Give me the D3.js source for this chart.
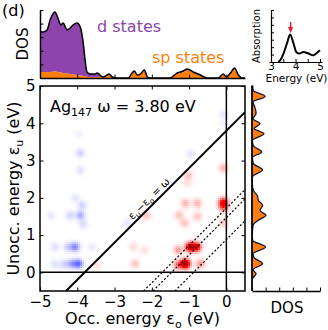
<!DOCTYPE html>
<html>
<head>
<meta charset="utf-8">
<script src="https://cdn.jsdelivr.net/npm/d3@7"></script>
<style>
  body { margin: 0; background: #fff; }
  svg text { font-family: "DejaVu Sans", sans-serif; fill: #000; }
</style>
</head>
<body>
<div id="chart-area"></div>
<script>
// ---- data ----
// top DOS (occupied energy axis)
const topE = [-5.0, -4.92, -4.81, -4.73, -4.60, -4.52, -4.44, -4.38, -4.27, -4.19, -4.11, -4.01, -3.92, -3.84, -3.79, -3.74, -3.66, -3.52, -3.47, -3.39, -3.31, -3.20, -3.15, -3.06, -2.93, -2.63, -2.55, -2.47, -2.39, -2.31, -2.20, -2.12, -2.04, -1.51, -1.32, -1.16, -1.05, -0.89, -0.70, -0.51, -0.22, -0.08, 0.0, 0.11, 0.22, 0.32, 0.43, 0.5]
const topTotal = [3.38, 3.38, 3.53, 4.26, 4.85, 4.41, 3.90, 4.04, 3.53, 3.68, 3.90, 4.04, 3.75, 2.57, 1.32, 0.44, 0.29, 0.29, 0.37, 0.22, 0.07, 0.22, 0.29, 0.07, 0, 0, 0.29, 0.51, 0.22, 0.29, 0.59, 0.07, 0, 0, 0.37, 0.51, 0.66, 0.44, 0.22, 0, 0, 0.29, 0.07, 0.37, 0.74, 0.22, 0, 0]
const topSp = [0.44, 0.44, 0.44, 0.44, 0.48, 0.44, 0.40, 0.37, 0.33, 0.30, 0.26, 0.22, 0.18, 0.15, 0.12, 0.10, 0.08, 0.07, 0.07, 0.10, 0.07, 0.15, 0.22, 0.05, 0, 0, 0.25, 0.45, 0.2, 0.25, 0.52, 0.06, 0, 0, 0.3, 0.42, 0.55, 0.38, 0.18, 0, 0, 0.26, 0.06, 0.33, 0.68, 0.2, 0, 0]

// right DOS (unoccupied energy axis)
const rightE = [-0.5, -0.25, -0.17, -0.04, 0.07, 0.23, 0.40, 0.50, 0.68, 0.86, 1.0, 1.26, 1.40, 1.53, 1.66, 1.80, 1.93, 2.06, 2.20, 2.40, 2.56, 2.75, 2.92, 3.08, 3.23, 3.40, 3.54, 3.72, 3.86, 3.99, 4.12, 4.26, 4.35, 4.44, 4.57, 4.72, 4.88, 5.0]
const rightDos = [0, 0, 0.03, 0.3, 0.08, 0.78, 0.15, 0.08, 1.0, 0.05, 0.02, 0.08, 0.47, 1.03, 0.59, 0.78, 0.47, 0.39, 0.1, 0.02, 0.03, 0.78, 0.1, 0.03, 0.71, 0.1, 0.03, 0.88, 0.16, 0.59, 0.08, 0.3, 0.27, 0.2, 0.08, 0.96, 0.1, 0.05]

// transition contributions (occ. energy, unocc. energy, weight)
const blobO = [-3.97, -4.15, -4.35, -4.6, -4.06, -4.25, -4.6, -3.6, -3.92, -4.19, -4.7, -3.84, -3.87, -4.05, -3.92, -3.92, -3.95, -2.65, -0.95, -0.08, -0.05,
  -1.10, -0.97, -0.8, -1.29, -0.7, -1.29, -0.08, -0.08, -0.08, -0.08, -1.02, -1.1, -0.78, -0.78, -1.27, -1.12, -2.15, -2.45, -2.5, -2.2, -3.47, -1.05]
const blobU = [0.23, 0.23, 0.22, 0.22, 0.68, 0.68, 0.68, 0.68, 1.53, 1.53, 1.53, 1.29, 1.8, 2.0, 2.74, 3.2, 3.7, 1.32, 3.18, 4.25, 4.0,
  0.23, 0.68, 0.68, 0.2, 0.23, 0.6, 1.88, 1.75, 2.8, 1.32, 2.6, 1.85, 1.85, 1.5, 1.53, 1.32, 1.53, 0.23, 0.68, 0.6, 0.19, 2.4]
const blobW = [-0.3, -0.18, -0.09, -0.06, -0.24, -0.1, -0.06, -0.04, -0.16, -0.08, -0.045, -0.07, -0.09, -0.05, -0.06, -0.09, -0.03, -0.05, -0.05, -0.045, -0.03,
  0.9, 0.75, 0.6, 0.3, 0.2, 0.2, 0.55, 0.3, 0.15, 0.1, 0.12, 0.15, 0.15, 0.12, 0.12, 0.12, 0.12, 0.12, 0.07, 0.06, 0.06, 0.06]

// guide lines eu - eo = c
const omega = 3.80
const dotOffsets = [1.72, 1.47, 0.88]

// absorption inset
const absE = [3.3, 3.38, 3.51, 3.65, 3.78, 3.92, 4.03, 4.16, 4.32, 4.53, 4.73, 4.87, 5.0]
const absV = [0, 0.25, 1.14, 2.49, 3.7, 2.49, 1.35, 1.14, 1.35, 1.14, 0.9, 1.22, 1.58]

const xTicks = [-5, -4, -3, -2, -1, 0]
const yTicks = [0, 1, 2, 3, 4, 5]
const dosTicks = [0, 1, 2, 3, 4, 5]

const PURPLE = "#8e44ad"
const ORANGE = "#ff7f0e"
const SIGMA = 0.085

const svg = d3.select("#chart-area")
    .append("svg")
    .attr("width", 328)
    .attr("height", 330)

// ---- scales ----
const x = d3.scaleLinear().domain([-5, 0.5]).range([40, 245])
const y = d3.scaleLinear().domain([-0.5, 5]).range([291, 86])
const yTop = d3.scaleLinear().domain([0, 5]).range([78, 10])
const xRight = d3.scaleLinear().domain([0, 5]).range([252, 320])
const xi = d3.scaleLinear().domain([3, 5]).range([271, 320])
const yi = d3.scaleLinear().domain([0, 7]).range([62, 10])

// seismic-like colour map
const color = d3.scaleLinear()
    .domain([-1, -0.5, 0, 0.5, 1])
    .range(["#00004d", "#0000ff", "#ffffff", "#ff0000", "#800000"])
    .clamp(true)

// ---- heat map ----
svg.append("clipPath").attr("id", "clip")
    .append("rect").attr("x", 40).attr("y", 86).attr("width", 205).attr("height", 205)

const mainG = svg.append("g").attr("clip-path", "url(#clip)")

const CELL = 2
const cells = []
for (let px = 40; px < 245; px += CELL) {
    for (let py = 86; py < 291; py += CELL) {
        const eo = x.invert(px + CELL / 2), eu = y.invert(py + CELL / 2)
        let v = 0
        blobO.forEach((o, i) => {
            const d2 = (eo - o) ** 2 + (eu - blobU[i]) ** 2
            v += blobW[i] * Math.exp(-d2 / (2 * SIGMA * SIGMA))
        })
        if (Math.abs(v) > 0.004) cells.push({ px, py, v })
    }
}
mainG.selectAll("rect.cell").data(cells).enter()
    .append("rect")
    .attr("class", "cell")
    .attr("x", d => d.px)
    .attr("y", d => d.py)
    .attr("width", CELL + 0.3)
    .attr("height", CELL + 0.3)
    .attr("fill", d => color(d.v))

// zero lines
mainG.append("line")
    .attr("x1", x(-5)).attr("x2", x(0.5)).attr("y1", y(0)).attr("y2", y(0))
    .attr("stroke", "#000").attr("stroke-width", 1.5)
mainG.append("line")
    .attr("x1", x(0)).attr("x2", x(0)).attr("y1", y(-0.5)).attr("y2", y(5))
    .attr("stroke", "#000").attr("stroke-width", 1.5)

// eu - eo = omega
mainG.append("line")
    .attr("x1", x(-0.5 - omega)).attr("y1", y(-0.5))
    .attr("x2", x(0.5)).attr("y2", y(0.5 + omega))
    .attr("stroke", "#000").attr("stroke-width", 2)

mainG.selectAll("line.dot").data(dotOffsets).enter()
    .append("line")
    .attr("class", "dot")
    .attr("x1", d => x(-0.5 - d)).attr("y1", y(-0.5))
    .attr("x2", x(0.5)).attr("y2", d => y(0.5 + d))
    .attr("stroke", "#000").attr("stroke-width", 1.2)
    .attr("stroke-dasharray", "2,2")

// label on the diagonal
const lx = x(-1.95), ly = y(-1.95 + omega)
const diagLabel = svg.append("text")
    .attr("transform", `translate(${lx},${ly}) rotate(-45)`)
    .attr("text-anchor", "middle")
    .attr("dy", -3)
    .style("font-size", "10.5px")
diagLabel.append("tspan").text("ε")
diagLabel.append("tspan").attr("dy", 2.5).style("font-size", "7.5px").text("u")
diagLabel.append("tspan").attr("dy", -2.5).text("−ε")
diagLabel.append("tspan").attr("dy", 2.5).style("font-size", "7.5px").text("o")
diagLabel.append("tspan").attr("dy", -2.5).text(" = ω")

// title inside
const title = svg.append("text").attr("x", 50).attr("y", 112).style("font-size", "16px")
title.append("tspan").text("Ag")
title.append("tspan").attr("dy", 4).style("font-size", "11px").text("147")
title.append("tspan").attr("dy", -4).text(" ω = 3.80 eV")

// frame + ticks
svg.append("rect")
    .attr("x", 40).attr("y", 86).attr("width", 205).attr("height", 205)
    .attr("fill", "none").attr("stroke", "#000").attr("stroke-width", 1.5)

function styleAxis(g, fs) {
    g.select(".domain").remove()
    g.selectAll(".tick line").attr("stroke", "#000").attr("stroke-width", 1)
    g.selectAll(".tick text").style("font-size", fs).attr("font-family", null)
}

const fmt = d3.format("d")
svg.append("g").attr("transform", "translate(0,291)")
    .call(d3.axisBottom(x).tickValues(xTicks).tickFormat(fmt).tickSize(-3.5).tickPadding(5.3))
    .call(g => styleAxis(g, "15px"))
svg.append("g").attr("transform", "translate(0,86)")
    .call(d3.axisTop(x).tickValues(xTicks).tickSize(-3.5).tickFormat(""))
    .call(g => styleAxis(g, "15px"))
svg.append("g").attr("transform", "translate(40,0)")
    .call(d3.axisLeft(y).tickValues(yTicks).tickFormat(fmt).tickSize(-3.5).tickPadding(4.5))
    .call(g => styleAxis(g, "15px"))
svg.append("g").attr("transform", "translate(245,0)")
    .call(d3.axisRight(y).tickValues(yTicks).tickSize(-3.5).tickFormat(""))
    .call(g => styleAxis(g, "15px"))

// axis labels
const xl = svg.append("text").attr("x", 142.5).attr("y", 324)
    .attr("text-anchor", "middle").style("font-size", "16px")
xl.append("tspan").text("Occ. energy ε")
xl.append("tspan").attr("dy", 3.5).style("font-size", "11px").text("o")
xl.append("tspan").attr("dy", -3.5).text(" (eV)")

const yl = svg.append("text")
    .attr("transform", "translate(19,188.5) rotate(-90)")
    .attr("text-anchor", "middle").style("font-size", "16px")
yl.append("tspan").text("Unocc. energy ε")
yl.append("tspan").attr("dy", 3.5).style("font-size", "11px").text("u")
yl.append("tspan").attr("dy", -3.5).text(" (eV)")

// ---- top DOS panel ----
const topData = topE.map((e, i) => ({ e, t: topTotal[i], sp: topSp[i] }))
const topG = svg.append("g")
topG.append("path").datum(topData)
    .attr("fill", PURPLE)
    .attr("d", d3.area().x(d => x(d.e)).y0(d => yTop(d.sp)).y1(d => yTop(d.t)).curve(d3.curveMonotoneX))
topG.append("path").datum(topData)
    .attr("fill", ORANGE)
    .attr("d", d3.area().x(d => x(d.e)).y0(yTop(0)).y1(d => yTop(d.sp)).curve(d3.curveMonotoneX))
topG.append("path").datum(topData)
    .attr("fill", "none").attr("stroke", "#000").attr("stroke-width", 1.5)
    .attr("d", d3.line().x(d => x(d.e)).y(d => yTop(d.t)).curve(d3.curveMonotoneX))

topG.append("g").attr("transform", "translate(40,0)")
    .call(d3.axisLeft(yTop).tickValues(dosTicks).tickSize(-3.5).tickSizeOuter(0).tickFormat(""))
    .call(g => g.select(".domain").attr("stroke", "#000").attr("stroke-width", 1.5))
topG.append("g").attr("transform", "translate(0,78)")
    .call(d3.axisBottom(x).tickValues(xTicks).tickSize(-3.5).tickSizeOuter(0).tickFormat(""))
    .call(g => g.select(".domain").attr("stroke", "#000").attr("stroke-width", 1.5))

topG.append("text").attr("transform", "translate(28,44) rotate(-90)")
    .attr("text-anchor", "middle").style("font-size", "15px").text("DOS")
topG.append("text").attr("x", 97).attr("y", 32)
    .style("font-size", "16px").style("fill", PURPLE).text("d states")
topG.append("text").attr("x", 152).attr("y", 63)
    .style("font-size", "16px").style("fill", ORANGE).text("sp states")
svg.append("text").attr("x", 2).attr("y", 16).style("font-size", "16px").text("(d)")

// ---- right DOS panel ----
const rightData = rightE.map((e, i) => ({ e, v: rightDos[i] }))
const rightG = svg.append("g")
rightG.append("path").datum(rightData)
    .attr("fill", ORANGE).attr("stroke", "#141432").attr("stroke-width", 1.3)
    .attr("d", d3.area().y(d => y(d.e)).x0(xRight(0)).x1(d => xRight(d.v)).curve(d3.curveMonotoneY))

rightG.append("g").attr("transform", "translate(0,291)")
    .call(d3.axisBottom(xRight).tickValues(dosTicks).tickSize(-3.5).tickSizeOuter(0).tickFormat(""))
    .call(g => g.select(".domain").attr("stroke", "#000").attr("stroke-width", 1.5))
rightG.append("line")
    .attr("x1", 252).attr("x2", 252).attr("y1", y(5)).attr("y2", y(-0.5))
    .attr("stroke", "#000").attr("stroke-width", 1.5)
rightG.append("text").attr("x", 287).attr("y", 313)
    .attr("text-anchor", "middle").style("font-size", "15px").text("DOS")

// ---- absorption inset ----
const absData = absE.map((e, i) => ({ e, v: absV[i] }))
const inset = svg.append("g")
inset.append("path").datum(absData)
    .attr("fill", "none").attr("stroke", "#000").attr("stroke-width", 2)
    .attr("d", d3.line().x(d => xi(d.e)).y(d => yi(d.v)).curve(d3.curveMonotoneX))

inset.append("g").attr("transform", "translate(271,0)")
    .call(d3.axisLeft(yi).tickValues(d3.range(0, 8)).tickSize(-3).tickSizeOuter(0).tickFormat(""))
    .call(g => g.select(".domain").attr("stroke", "#000").attr("stroke-width", 1.2))
inset.append("g").attr("transform", "translate(0,62)")
    .call(d3.axisBottom(xi).tickValues([3, 3.5, 4, 4.5, 5]).tickSize(-3).tickSizeOuter(0).tickPadding(1)
        .tickFormat(d => Number.isInteger(d) ? d : ""))
    .call(g => g.select(".domain").attr("stroke", "#000").attr("stroke-width", 1.2))
    .call(g => g.selectAll(".tick text").style("font-size", "10.5px").attr("font-family", null))

inset.append("text").attr("transform", "translate(260,36) rotate(-90)")
    .attr("text-anchor", "middle").style("font-size", "10px").text("Absorption")
inset.append("text").attr("x", 296.5).attr("y", 82)
    .attr("text-anchor", "middle").style("font-size", "10.5px").text("Energy (eV)")

// arrow at omega
inset.append("line")
    .attr("x1", xi(omega)).attr("x2", xi(omega)).attr("y1", 22).attr("y2", 28)
    .attr("stroke", "#e8142c").attr("stroke-width", 1.5)
inset.append("path")
    .attr("d", `M${xi(omega) - 2.5},27 L${xi(omega) + 2.5},27 L${xi(omega)},33 Z`)
    .attr("fill", "#e8142c")
</script>
</body>
</html>
